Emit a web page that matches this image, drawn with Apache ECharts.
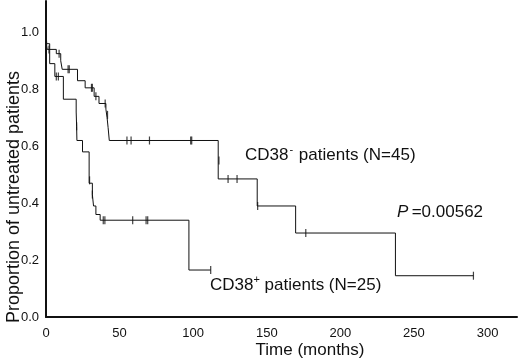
<!DOCTYPE html>
<html>
<head>
<meta charset="utf-8">
<script src="https://cdn.jsdelivr.net/npm/echarts@6/dist/echarts.min.js"></script>
<style>
  html, body { margin: 0; padding: 0; background: #fff; }
  #main { width: 520px; height: 360px; }
</style>
</head>
<body>
<div id="main"></div>
<script>
// CD38- group (N=45): step times and survival proportion
var negTimes = [0, 0.3, 0.8, 7, 10, 11, 21.4, 26.6, 32.7, 36, 40.7, 41.5, 42.2, 43, 117, 143.5, 169.6, 237.4, 290.4];
var negSurv  = [1.0, 0.96, 0.94, 0.925, 0.9, 0.87, 0.83, 0.805, 0.775, 0.75, 0.73, 0.7, 0.665, 0.62, 0.485, 0.39, 0.295, 0.145, 0.145];
// censored observations
var negCensT = [2, 8.9, 15, 15.8, 30.9, 31.5, 33.9, 40.2, 41.8, 55, 57.8, 70.3, 98.3, 99, 117.5, 123.7, 129.8, 143.8, 176.5, 290.4];
var negCensV = [0.94, 0.925, 0.87, 0.87, 0.805, 0.805, 0.775, 0.75, 0.71, 0.62, 0.62, 0.62, 0.62, 0.62, 0.55, 0.485, 0.485, 0.39, 0.295, 0.145];

// CD38+ group (N=25)
var posTimes = [0, 0.5, 2.5, 6, 11.8, 20.5, 20.8, 21, 24.8, 29.3, 31.5, 32.3, 33.9, 36.8, 97.1, 111.9];
var posSurv  = [1.0, 0.96, 0.89, 0.845, 0.765, 0.72, 0.67, 0.62, 0.58, 0.47, 0.43, 0.39, 0.36, 0.34, 0.165, 0.165];
var posCensT = [7, 8.4, 20.8, 29.6, 31.5, 38.9, 40, 58.9, 68, 69.1, 111.9];
var posCensV = [0.845, 0.845, 0.67, 0.48, 0.43, 0.34, 0.34, 0.34, 0.34, 0.34, 0.165];

var xTicks = [0, 50, 100, 150, 200, 250, 300];
var yTicks = [0.0, 0.2, 0.4, 0.6, 0.8, 1.0];

function pairs(a, b) {
  var out = [];
  for (var i = 0; i < a.length; i++) out.push([a[i], b[i]]);
  return out;
}

var font = 'Arial, "Liberation Sans", sans-serif';
var lineCol = '#111';

var myChart = echarts.init(document.getElementById('main'));
var option = {
  animation: false,
  backgroundColor: '#fff',
  grid: { left: 46, right: 3, top: 1, bottom: 43 },
  xAxis: {
    type: 'value', min: 0, max: 320, interval: 50,
    axisLine: { show: true, lineStyle: { color: '#111', width: 2 } },
    axisTick: { show: false },
    splitLine: { show: false },
    axisLabel: {
      margin: 10, color: '#111', fontSize: 13, fontFamily: font,
      showMaxLabel: false,
      formatter: function (v) { return xTicks.indexOf(v) >= 0 ? String(v) : ''; }
    }
  },
  yAxis: {
    type: 'value', min: 0, max: 1.11, interval: 0.2,
    axisLine: { show: true, lineStyle: { color: '#111', width: 2 } },
    axisTick: { show: false },
    splitLine: { show: false },
    axisLabel: {
      margin: 7, color: '#111', fontSize: 13, fontFamily: font,
      showMaxLabel: false,
      formatter: function (v) {
        for (var i = 0; i < yTicks.length; i++) {
          if (Math.abs(yTicks[i] - v) < 1e-6) return yTicks[i].toFixed(1);
        }
        return '';
      }
    }
  },
  series: [
    {
      type: 'line', step: 'end', symbol: 'none',
      lineStyle: { color: lineCol, width: 1 },
      data: pairs(negTimes, negSurv)
    },
    {
      type: 'line', step: 'end', symbol: 'none',
      lineStyle: { color: lineCol, width: 1 },
      data: pairs(posTimes, posSurv)
    },
    {
      type: 'scatter', symbol: 'rect', symbolSize: [1.2, 8],
      itemStyle: { color: lineCol },
      data: pairs(negCensT, negCensV)
    },
    {
      type: 'scatter', symbol: 'rect', symbolSize: [1.2, 8],
      itemStyle: { color: lineCol },
      data: pairs(posCensT, posCensV)
    }
  ],
  graphic: [
    {
      type: 'text', x: 14, y: 197, rotation: Math.PI / 2,
      style: {
        text: 'Proportion of untreated patients',
        font: '18px ' + font, fill: '#111',
        align: 'center', verticalAlign: 'middle'
      }
    },
    {
      type: 'text', x: 310, y: 350,
      style: {
        text: 'Time (months)',
        font: '17px ' + font, fill: '#111',
        align: 'center', verticalAlign: 'middle'
      }
    },
    {
      type: 'text', x: 245, y: 155,
      style: {
        text: '{n|CD38}{s|-}{n| patients (N=45)}',
        fill: '#111', align: 'left', verticalAlign: 'middle',
        rich: {
          n: { fontSize: 17, fontFamily: font, fill: '#111' },
          s: { fontSize: 11, fontFamily: font, fill: '#111', padding: [0, 1, 10, 1] }
        }
      }
    },
    {
      type: 'text', x: 397, y: 212,
      style: {
        text: '{i|P} {n|=0.00562}',
        fill: '#111', align: 'left', verticalAlign: 'middle',
        rich: {
          i: { fontSize: 17, fontFamily: font, fontStyle: 'italic', fill: '#111' },
          n: { fontSize: 17, fontFamily: font, fill: '#111' }
        }
      }
    },
    {
      type: 'text', x: 210, y: 285,
      style: {
        text: '{n|CD38}{s|+}{n| patients (N=25)}',
        fill: '#111', align: 'left', verticalAlign: 'middle',
        rich: {
          n: { fontSize: 17, fontFamily: font, fill: '#111' },
          s: { fontSize: 11, fontFamily: font, fill: '#111', padding: [0, 0, 10, 0] }
        }
      }
    }
  ]
};
myChart.setOption(option);
</script>
</body>
</html>
